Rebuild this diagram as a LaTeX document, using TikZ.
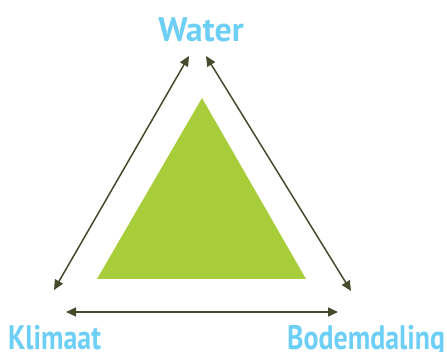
\documentclass[tikz,border=0pt]{standalone}
\usepackage{fontspec}
\setmainfont{PT Sans}
\newfontfamily\narrowfont[FakeStretch=0.82]{PT Sans}
\usepackage{xcolor}
\usetikzlibrary{arrows.meta, positioning}

\definecolor{label}{HTML}{6DCFF6}
\definecolor{leaf}{HTML}{A8CD3A}
\definecolor{olive}{HTML}{474A2C}

\begin{document}
\begin{tikzpicture}[x=1pt, y=-1pt,
    term/.style={text=label, font=\bfseries\fontsize{34}{34}\selectfont, inner sep=0pt},
    narrowterm/.style={term, font=\narrowfont\bfseries\fontsize{34}{34}\selectfont},
    link/.style={draw=olive, line width=1.5pt, {Triangle[length=10pt,width=9pt]}-{Triangle[length=10pt,width=9pt]}}]
    \useasboundingbox (0,0) rectangle (447,352);

    % middle triangle
    \fill[leaf] (202,98) -- (306,279) -- (97,279) -- cycle;

    % corner words
    \node[term, anchor=base] (water) at (201,42) {Water};
    \node[narrowterm, anchor=base west] (klimaat) at (8,350) {Klimaat};
    \node[narrowterm, anchor=base west] (bodem) at (287,350) {Bodemdaling};

    % arrow ends
    \coordinate (wl) at (189,56);
    \coordinate (wr) at (206,56);
    \coordinate (kt) at (54,290);
    \coordinate (kr) at (66,312);
    \coordinate (bt) at (351,291);
    \coordinate (bl) at (338,312);

    \draw[link] (kt) -- (wl);
    \draw[link] (wr) -- (bt);
    \draw[link] (kr) -- (bl);
\end{tikzpicture}
\end{document}
